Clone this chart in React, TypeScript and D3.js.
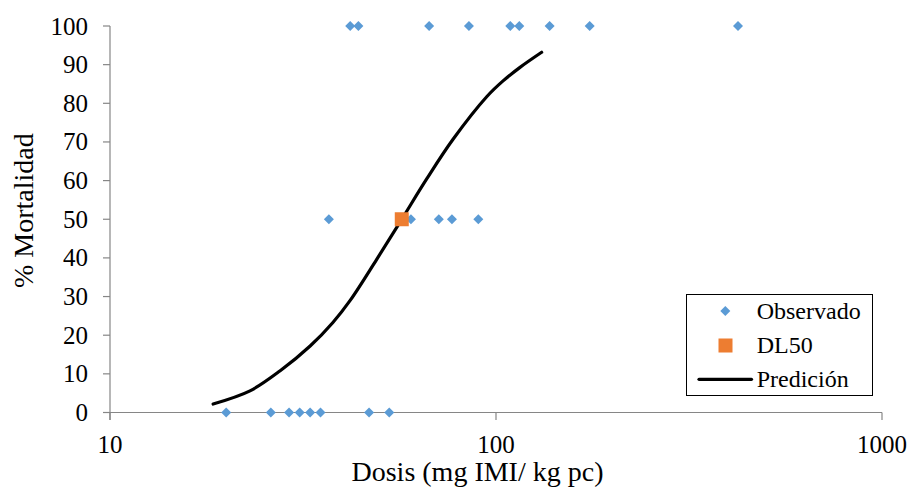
import React from "react";
import * as d3 from "d3";

const obsDose: number[] = [
  41.9, 44.0, 67.1, 85.1, 108.9, 114.9, 137.7, 174.9, 423.6,
  36.9, 60.2, 71.1, 76.9, 90.0,
  20.0, 26.1, 29.1, 31.0, 33.0, 35.1, 46.9, 52.9,
];
const obsMort: number[] = [
  100, 100, 100, 100, 100, 100, 100, 100, 100,
  50, 50, 50, 50, 50,
  0, 0, 0, 0, 0, 0, 0, 0,
];
const dl50Dose = [57.0];
const dl50Mort = [50];
const predDose: number[] = [18.5, 23.05, 27.6, 33.0, 37.8, 41.9, 49.0, 57.0, 66.2, 77.4, 94.6, 104.3, 115.4, 131.3];
const predMort: number[] = [2.2, 5.6, 10.8, 17.2, 23.3, 29.0, 39.5, 50, 60.5, 70.7, 81.7, 85.8, 89.3, 93.2];
const xTicks = [10, 100, 1000];
const yTicks = [0, 10, 20, 30, 40, 50, 60, 70, 80, 90, 100];
const legendLabels = ["Observado", "DL50", "Predición"];

const FONT = "'Liberation Serif', 'Times New Roman', serif";

export default function App() {
  const W = 911, H = 488;
  const x = d3.scaleLog().domain([10, 1000]).range([110, 882]);
  const y = d3.scaleLinear().domain([0, 100]).range([412.5, 26]);
  const axisColor = "#868686";
  const blue = "#5B9BD5";
  const orange = "#ED7D31";

  const line = d3
    .line<number>()
    .x((_, i) => x(predDose[i]))
    .y((d) => y(d))
    .curve(d3.curveCatmullRom.alpha(0.5));

  const diamond = (cx: number, cy: number, r = 5) =>
    `M${cx},${cy - r}L${cx + r},${cy}L${cx},${cy + r}L${cx - r},${cy}Z`;

  const lx = 686.5, ly = 294.5, lw = 186, lh = 101;

  return (
    <svg width={W} height={H} style={{ position: "absolute", left: 0, top: 0, background: "#fff" }} fontFamily={FONT}>
      <rect x={0} y={0} width={W} height={H} fill="#fff" />
      {/* y axis */}
      <line x1={110} x2={110} y1={y(100)} y2={420} stroke={axisColor} strokeWidth={1.2} />
      {yTicks.map((t) => (
        <g key={"y" + t}>
          <line x1={103} x2={110} y1={y(t)} y2={y(t)} stroke={axisColor} strokeWidth={1.2} />
          <text x={88} y={y(t)} dy="0.34em" textAnchor="end" fontSize={25} fill="#000">
            {t}
          </text>
        </g>
      ))}
      {/* x axis */}
      <line x1={110} x2={882} y1={y(0)} y2={y(0)} stroke={axisColor} strokeWidth={1.2} />
      {xTicks.map((t) => (
        <g key={"x" + t}>
          <line x1={x(t)} x2={x(t)} y1={y(0)} y2={420} stroke={axisColor} strokeWidth={1.2} />
          <text x={x(t)} y={453} textAnchor="middle" fontSize={25} fill="#000">
            {t}
          </text>
        </g>
      ))}
      {/* titles */}
      <text x={477.5} y={481} textAnchor="middle" fontSize={28} fill="#000">
        Dosis (mg IMI/ kg pc)
      </text>
      <text transform={`translate(33,${210.7}) rotate(-90)`} textAnchor="middle" fontSize={28} fill="#000">
        % Mortalidad
      </text>
      {/* prediction curve */}
      <path d={line(predMort) || ""} fill="none" stroke="#000" strokeWidth={3.2} strokeLinecap="round" />
      {/* observed */}
      {obsDose.map((d, i) => (
        <path key={"o" + i} d={diamond(x(d), y(obsMort[i]))} fill={blue} />
      ))}
      {/* DL50 */}
      {dl50Dose.map((d, i) => (
        <rect key={"dl" + i} x={x(d) - 7} y={y(dl50Mort[i]) - 7} width={14} height={14} fill={orange} />
      ))}
      {/* legend */}
      <rect x={lx} y={ly} width={lw} height={lh} fill="#fff" stroke="#000" strokeWidth={1} />
      <path d={diamond(725.3, 311)} fill={blue} />
      <text x={756.7} y={319} fontSize={24} fill="#000">{legendLabels[0]}</text>
      <rect x={718.5} y={338.5} width={14} height={14} fill={orange} />
      <text x={756.7} y={353} fontSize={24} fill="#000">{legendLabels[1]}</text>
      <line x1={699} x2={751.5} y1={379.3} y2={379.3} stroke="#000" strokeWidth={3.2} strokeLinecap="round" />
      <text x={756.7} y={387} fontSize={24} fill="#000">{legendLabels[2]}</text>
    </svg>
  );
}
